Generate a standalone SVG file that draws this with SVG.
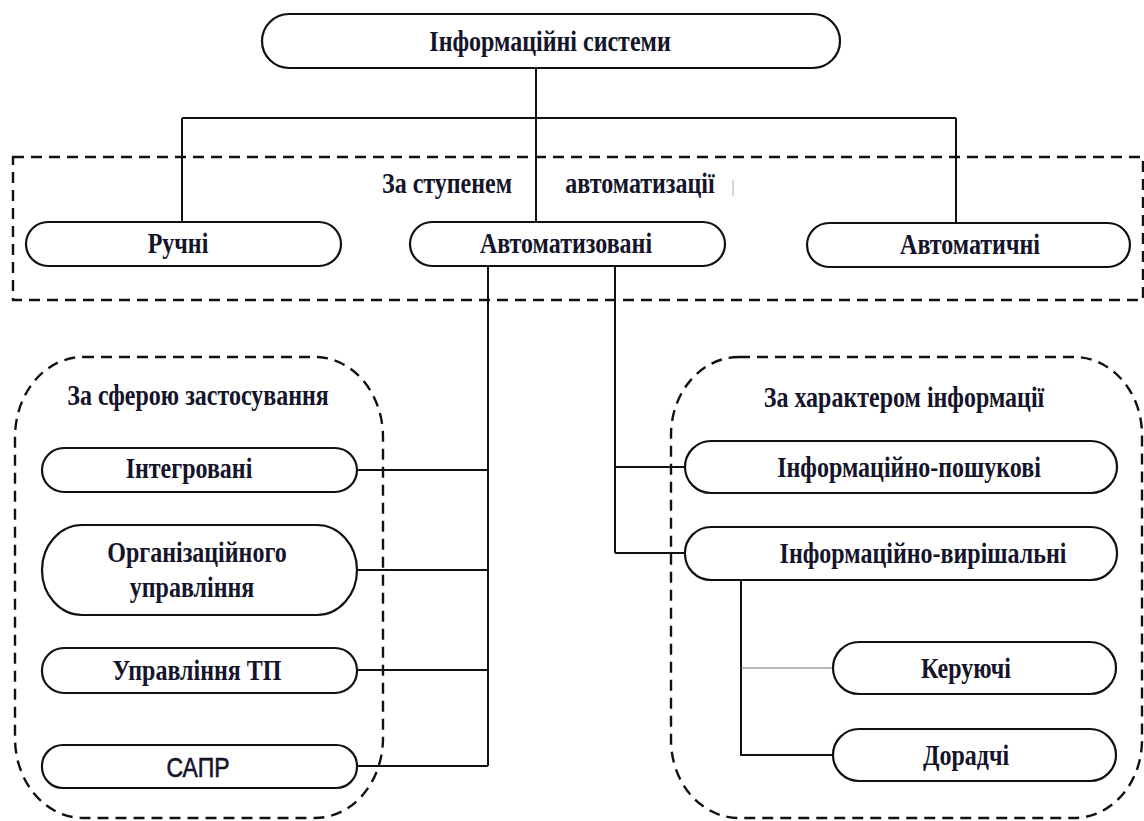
<svg xmlns="http://www.w3.org/2000/svg" width="1144" height="821" viewBox="0 0 1144 821">
<style>
.bg{fill:#ffffff}
.box{fill:#ffffff;stroke:#111111;stroke-width:2.2}
.grp{fill:none;stroke:#111111;stroke-width:2.4;stroke-dasharray:11 7}
.ln{fill:none;stroke:#111111;stroke-width:2}
.thin{fill:none;stroke:#777777;stroke-width:1.2}
.t{font-family:"Liberation Serif","Times New Roman",serif;font-weight:bold;font-size:24px;fill:#14142a;text-anchor:middle}
.s{font-family:"Liberation Sans",Arial,sans-serif;font-weight:normal;font-size:23px;fill:#14142a;stroke:#14142a;stroke-width:0.5;text-anchor:middle}
</style>
<rect class="bg" x="0" y="0" width="1144" height="821"/>
<g id="groups">
<rect class="grp" x="13" y="157" width="1130" height="143"/>
<rect class="grp" x="15" y="357" width="368" height="461" rx="68" ry="80"/>
<rect class="grp" x="671" y="357" width="471" height="461" rx="68" ry="78"/>
<line x1="733" y1="180" x2="733" y2="196" stroke="#bbbbbb" stroke-width="1.2"/>
<text class="t" transform="translate(447 193) scale(1 1.2)">За ступенем</text>
<text class="t" transform="translate(640 193) scale(1 1.2)">автоматизації</text>
<text class="t" transform="translate(198 405) scale(1 1.2)">За сферою застосування</text>
<text class="t" transform="translate(904 407) scale(1 1.2)">За характером інформації</text>
</g>
<g id="connectors">
<path class="ln" d="M536 68 V118 M182 118 H956 M182 118 V222 M536 118 V222 M956 118 V223"/>
<path class="ln" d="M488 266 V766 M615 266 V553"/>
<path class="ln" d="M357 470 H488 M357 570 H488 M357 670 H488 M357 766 H488"/>
<path class="ln" d="M615 467 H685 M615 553 H685"/>
<path class="ln" d="M741 580 V755 H833"/>
<path class="thin" d="M741 668 H833"/>
</g>
<g id="n-root"><rect class="box" x="262" y="14" width="578" height="54" rx="27"/><text class="t" transform="translate(550 51) scale(1 1.2)">Інформаційні системи</text></g>
<g id="n-manual"><rect class="box" x="26" y="222" width="315" height="44" rx="22"/><text class="t" transform="translate(178 253) scale(1 1.2)">Ручні</text></g>
<g id="n-automated"><rect class="box" x="410" y="222" width="315" height="44" rx="22"/><text class="t" transform="translate(566 253) scale(1 1.2)">Автоматизовані</text></g>
<g id="n-automatic"><rect class="box" x="807" y="223" width="323" height="44" rx="22"/><text class="t" transform="translate(970 254) scale(1 1.2)">Автоматичні</text></g>
<g id="n-integrated"><rect class="box" x="42" y="448" width="315" height="44" rx="22"/><text class="t" transform="translate(189 478) scale(1 1.2)">Інтегровані</text></g>
<g id="n-org"><rect class="box" x="42" y="525" width="315" height="90" rx="40" ry="45"/><text class="t" transform="translate(197 562) scale(1 1.2)">Організаційного</text><text class="t" transform="translate(192 597) scale(1 1.2)">управління</text></g>
<g id="n-tp"><rect class="box" x="42" y="648" width="315" height="45" rx="22"/><text class="t" transform="translate(197 680) scale(1 1.2)">Управління ТП</text></g>
<g id="n-sapr"><rect class="box" x="42" y="745" width="315" height="43" rx="21"/><text class="s" transform="translate(198 777) scale(1 1.2)">САПР</text></g>
<g id="n-search"><rect class="box" x="685" y="441" width="432" height="52" rx="26"/><text class="t" transform="translate(909 477) scale(1 1.2)">Інформаційно-пошукові</text></g>
<g id="n-decision"><rect class="box" x="685" y="527" width="432" height="53" rx="26"/><text class="t" transform="translate(923 563) scale(1 1.2)">Інформаційно-вирішальні</text></g>
<g id="n-control"><rect class="box" x="833" y="642" width="283" height="52" rx="26"/><text class="t" transform="translate(966 678) scale(1 1.2)">Керуючі</text></g>
<g id="n-advisory"><rect class="box" x="833" y="729" width="283" height="52" rx="26"/><text class="t" transform="translate(966 765) scale(1 1.2)">Дорадчі</text></g>
</svg>
